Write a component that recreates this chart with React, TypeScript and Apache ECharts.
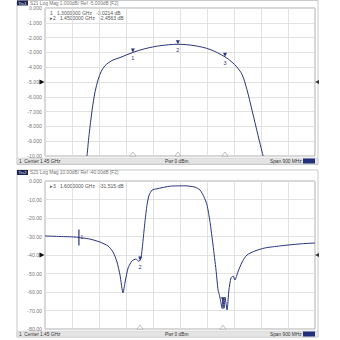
import React, { useEffect, useRef } from "react";
import * as echarts from "echarts";

// ---- data (frequency in GHz, magnitude in dB) ----
const TOP_FREQ = [1.14, 1.147, 1.157, 1.167, 1.177, 1.187, 1.2, 1.223, 1.25, 1.293, 1.333, 1.383, 1.443, 1.5, 1.55, 1.6, 1.623, 1.64, 1.657, 1.673, 1.69, 1.71, 1.727];
const TOP_DB = [-10, -8.55, -6.9, -5.65, -4.85, -4.3, -3.9, -3.55, -3.35, -3.0, -2.75, -2.55, -2.45, -2.55, -2.8, -3.3, -3.65, -4.0, -4.5, -5.5, -6.9, -8.6, -10];

const BOT_FREQ = [1.0, 1.05, 1.1, 1.15, 1.183, 1.21, 1.227, 1.24, 1.25, 1.26, 1.267, 1.277, 1.29, 1.303, 1.313, 1.32, 1.327, 1.333, 1.34, 1.347, 1.357, 1.373, 1.417, 1.467, 1.5, 1.517, 1.53, 1.54, 1.55, 1.56, 1.57, 1.577, 1.583, 1.59, 1.593, 1.597, 1.6, 1.607, 1.613, 1.62, 1.627, 1.633, 1.643, 1.657, 1.673, 1.7, 1.733, 1.783, 1.85, 1.9];
const BOT_DB = [-29.7, -30.0, -30.3, -31.4, -33.0, -35.1, -38.4, -43.8, -50.8, -60.5, -54.6, -47.0, -43.2, -42.2, -43.5, -41.6, -31.9, -22.2, -13.0, -7.6, -4.9, -4.2, -2.8, -2.6, -3.3, -4.9, -8.6, -13.0, -22.0, -34.6, -48.0, -59.0, -62.7, -68.6, -63.2, -68.6, -62.7, -69.7, -58.9, -52.4, -51.4, -53.5, -49.2, -43.8, -40.0, -37.8, -36.2, -35.1, -34.0, -33.5];

const TOP_MARKERS = [
  { name: "1", f: 1.293, db: -3.0 },
  { name: "2", f: 1.443, db: -2.45 },
  { name: "3", f: 1.6, db: -3.3 },
];
const BOT_MARKERS = [
  { name: "1", f: 1.113, db: -30.5 },
  { name: "2", f: 1.317, db: -43.0 },
  { name: "3", f: 1.593, db: -65.0 },
];

const TOP_HEADER = "S21 Log Mag 1.000dB/ Ref -5.000dB [F2]";
const BOT_HEADER = "S21 Log Mag 10.00dB/ Ref -40.00dB [F2]";
const TOP_MKR_TEXT = ["1   1.3000000 GHz   -3.0214 dB", "\u25B82   1.4500000 GHz   -2.4563 dB"];
const BOT_MKR_TEXT = ["\u25B83   1.6000000 GHz   -31.515 dB"];
const STATUS_LEFT = "1  Center 1.45 GHz";
const STATUS_MID = "Pwr 0 dBm";
const STATUS_RIGHT = "Span 900 MHz";

const F_MIN = 1.0;
const F_MAX = 1.9;
const TOP_REF = -5;
const BOT_REF = -40;

const FONT = "Liberation Sans, Arial, sans-serif";
const LINE = "#28347a";
const GRIDC = "#dadada";
const TXT = "#777";

function fmt(v: number) {
  if (v === 0) return "0.000";
  return Math.abs(v) >= 10 ? v.toFixed(2) : v.toFixed(3);
}

function panelMarkers(markers: { name: string; f: number; db: number }[], ymin: number, ref: number, barFirst: boolean) {
  const data: any[] = [];
  markers.forEach((m, i) => {
    if (barFirst && i === 0) {
      data.push({
        coord: [m.f, m.db],
        symbol: "rect",
        symbolSize: [1.2, 16],
        itemStyle: { color: LINE },
        label: { show: true, formatter: m.name, position: "right", distance: 1, fontSize: 5, color: LINE, fontFamily: FONT },
      });
    } else {
      data.push({
        coord: [m.f, m.db],
        symbol: "triangle",
        symbolRotate: 180,
        symbolSize: 4,
        symbolOffset: [0, -2],
        itemStyle: { color: LINE },
        label: { show: true, formatter: m.name, position: "bottom", distance: 3, fontSize: 5.5, color: LINE, fontFamily: FONT },
      });
    }
    if (!(barFirst && i === 0)) {
      data.push({
        coord: [m.f, ymin],
        symbol: "triangle",
        symbolSize: [6, 4],
        symbolOffset: [0, -2],
        itemStyle: { color: "#fff", borderColor: "#999", borderWidth: 0.6 },
        label: { show: false },
      });
    }
  });
  data.push({
    coord: [F_MIN, ref],
    symbol: "triangle",
    symbolRotate: -90,
    symbolSize: 5,
    symbolOffset: [-3, 0],
    itemStyle: { color: "#111" },
    label: { show: false },
  });
  data.push({
    coord: [F_MAX, ref],
    symbol: "triangle",
    symbolRotate: 90,
    symbolSize: 4,
    symbolOffset: [2, 0],
    itemStyle: { color: "#333" },
    label: { show: false },
  });
  return { silent: true, animation: false, data };
}

function textEl(x: number, y: number, text: string, opts: any = {}) {
  return {
    type: "text",
    x,
    y,
    style: { text, fontSize: 4.8, fill: TXT, fontFamily: FONT, ...opts },
    silent: true,
  };
}

export default function App() {
  const ref = useRef<HTMLDivElement>(null);
  useEffect(() => {
    if (!ref.current) return;
    const chart = echarts.init(ref.current, null, { renderer: "svg" });
    const divAxis = (gridIndex: number) => ({
      type: "value",
      gridIndex,
      min: 0,
      max: 10,
      interval: 1,
      axisLine: { show: false },
      axisTick: { show: false },
      axisLabel: { show: false },
      splitLine: { show: true, lineStyle: { color: GRIDC, width: 0.8 } },
    });
    const fAxis = (gridIndex: number) => ({
      type: "value",
      gridIndex,
      min: F_MIN,
      max: F_MAX,
      show: false,
      splitLine: { show: false },
    });
    const yAxis = (gridIndex: number, min: number, max: number, interval: number) => ({
      type: "value",
      gridIndex,
      min,
      max,
      interval,
      axisLine: { show: false },
      axisTick: { show: false },
      axisLabel: { fontSize: 5.2, color: TXT, fontFamily: FONT, margin: 3, formatter: fmt },
      splitLine: { show: true, lineStyle: { color: GRIDC, width: 0.8 } },
    });

    const bar = (y: number) => [
      { type: "rect", shape: { x: 17, y, width: 301, height: 6 }, style: { fill: "#e4e4e4", stroke: "#c8c8c8", lineWidth: 0.5 }, silent: true },
    ];

    chart.setOption({
      animation: false,
      backgroundColor: "#fff",
      grid: [
        { left: 45, right: 25, top: 8, height: 148, show: true, borderColor: "#999", borderWidth: 0.8, backgroundColor: "#fff" },
        { left: 45, right: 25, top: 181, height: 148, show: true, borderColor: "#999", borderWidth: 0.8, backgroundColor: "#fff" },
      ],
      xAxis: [divAxis(0), fAxis(0), divAxis(1), fAxis(1)],
      yAxis: [yAxis(0, -10, 0, 1), yAxis(1, -80, 0, 10)],
      series: [
        {
          type: "line",
          xAxisIndex: 1,
          yAxisIndex: 0,
          data: TOP_FREQ.map((f, i) => [f, TOP_DB[i]]),
          showSymbol: false,
          smooth: 0.3,
          lineStyle: { color: LINE, width: 1 },
          markPoint: panelMarkers(TOP_MARKERS, -10, TOP_REF, false),
        },
        {
          type: "line",
          xAxisIndex: 3,
          yAxisIndex: 1,
          data: BOT_FREQ.map((f, i) => [f, BOT_DB[i]]),
          showSymbol: false,
          smooth: 0.2,
          lineStyle: { color: LINE, width: 1 },
          markPoint: panelMarkers(BOT_MARKERS, -80, BOT_REF, true),
        },
      ],
      graphic: [
        // panel frames
        { type: "rect", shape: { x: 17, y: 0.5, width: 301, height: 164 }, style: { fill: "none", stroke: "#bbb", lineWidth: 0.8 }, silent: true, z: -1 },
        { type: "rect", shape: { x: 17, y: 170, width: 301, height: 167 }, style: { fill: "none", stroke: "#bbb", lineWidth: 0.8 }, silent: true, z: -1 },
        // headers
        { type: "rect", shape: { x: 17, y: 0.5, width: 11, height: 5 }, style: { fill: "#1c2350" }, silent: true },
        textEl(18.5, 1.2, "Trc1", { fill: "#fff", fontSize: 4 }),
        textEl(30, 0.8, TOP_HEADER),
        { type: "rect", shape: { x: 17, y: 170, width: 11, height: 5 }, style: { fill: "#1c2350" }, silent: true },
        textEl(18.5, 170.7, "Trc2", { fill: "#fff", fontSize: 4 }),
        textEl(30, 170.3, BOT_HEADER),
        // marker readouts
        ...TOP_MKR_TEXT.map((t, i) => textEl(50, 10 + i * 5.5, t, { fill: "#555", fontSize: 5 })),
        ...BOT_MKR_TEXT.map((t, i) => textEl(50, 183 + i * 5.5, t, { fill: "#555", fontSize: 5 })),
        // status bars
        ...bar(158),
        textEl(19, 158.8, STATUS_LEFT, { fill: "#333" }),
        textEl(165, 158.8, STATUS_MID, { fill: "#333" }),
        textEl(270, 158.8, STATUS_RIGHT, { fill: "#333" }),
        { type: "rect", shape: { x: 303, y: 158.5, width: 12, height: 5 }, style: { fill: "#22307a" }, silent: true },
        ...bar(331),
        textEl(19, 331.8, STATUS_LEFT, { fill: "#333" }),
        textEl(165, 331.8, STATUS_MID, { fill: "#333" }),
        textEl(270, 331.8, STATUS_RIGHT, { fill: "#333" }),
        { type: "rect", shape: { x: 303, y: 331.5, width: 12, height: 5 }, style: { fill: "#22307a" }, silent: true },
      ],
    });
    return () => chart.dispose();
  }, []);
  return (
    <div
      ref={ref}
      style={{ position: "fixed", left: 0, top: 0, width: 340, height: 340, background: "#fff" }}
    />
  );
}
